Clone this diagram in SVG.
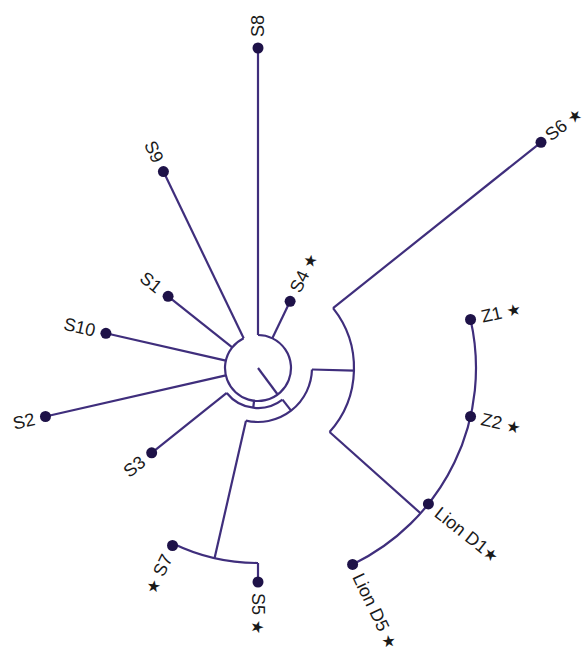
<svg xmlns="http://www.w3.org/2000/svg" width="587" height="657" viewBox="0 0 587 657">
<style>
.br{fill:none;stroke:#3f2e7c;stroke-width:2.2;stroke-linecap:butt;stroke-linejoin:miter}
.dot{fill:#1e1248}
.lb{font-family:"Liberation Sans","DejaVu Sans",Arial,sans-serif;font-size:18px;fill:#1a1a1a;dominant-baseline:central}
.l{text-anchor:end}
.st{font-size:16px}
</style>
<rect width="587" height="657" fill="#ffffff"/>
<g id="connectors">
<path class="br" d="M258,335 A33,33 0 1 1 243.68,338.27"/>
<path class="br" d="M258,368 L277.67,394.49"/>
<path class="br" d="M258,335 L258,48"/>
<path class="br" d="M272.32,338.27 L290.11,301.33"/>
<path class="br" d="M243.68,338.27 L163.41,171.58"/>
<path class="br" d="M232.20,347.42 L168.09,296.30"/>
<path class="br" d="M225.83,360.66 L105.92,333.29"/>
<path class="br" d="M225.83,375.34 L45.47,416.51"/>
<path class="br" d="M254.08,400.77 L253.24,407.72"/>
<path class="br" d="M282.50,399.62 A40,40 0 0 1 226.73,392.94"/>
<path class="br" d="M226.73,392.94 L151.68,452.79"/>
<path class="br" d="M282.50,399.62 L291.08,410.69"/>
<path class="br" d="M311.98,369.52 A54,54 0 0 1 245.98,420.64"/>
<path class="br" d="M311.98,369.52 L353.96,370.70"/>
<path class="br" d="M333.05,308.14 A96,96 0 0 1 329.58,431.97"/>
<path class="br" d="M333.05,308.14 L541.0,142.3"/>
<path class="br" d="M329.58,431.97 L420.54,513.28"/>
<path class="br" d="M470.53,319.49 A218,218 0 0 1 352.59,564.42"/>
<path class="br" d="M245.98,420.64 L214.61,558.11"/>
<path class="br" d="M258,563 A195,195 0 0 1 173.39,543.70"/>
<path class="br" d="M258,563 L258,582"/>
<path class="br" d="M173.39,543.70 L172.52,545.5"/>
</g>
<g id="S8"><circle class="dot" cx="258" cy="48" r="5.5"/><text class="lb" transform="translate(258,37) rotate(-90)">S8</text></g>
<g id="S4"><circle class="dot" cx="290.11" cy="301.33" r="5.5"/><text class="lb" transform="translate(294.9,291.4) rotate(-64.29)">S4 <tspan class="st">★</tspan></text></g>
<g id="S6"><circle class="dot" cx="541" cy="142.3" r="5.5"/><text class="lb" transform="translate(547.5,137) rotate(-38.57)">S6 <tspan class="st">★</tspan></text></g>
<g id="Z1"><circle class="dot" cx="470.53" cy="319.49" r="5.5"/><text class="lb" transform="translate(481.3,317) rotate(-12.86)">Z1 <tspan class="st">★</tspan></text></g>
<g id="Z2"><circle class="dot" cx="470.53" cy="416.51" r="5.5"/><text class="lb" transform="translate(481.3,419) rotate(12.86)">Z2 <tspan class="st">★</tspan></text></g>
<g id="LionD1"><circle class="dot" cx="428.41" cy="503.94" r="5.5"/><text class="lb" transform="translate(437,510.8) rotate(38.57)">Lion D1<tspan class="st">★</tspan></text></g>
<g id="LionD5"><circle class="dot" cx="352.59" cy="564.42" r="5.5"/><text class="lb" transform="translate(357.4,574.3) rotate(64.29)">Lion D5 <tspan class="st">★</tspan></text></g>
<g id="S5"><circle class="dot" cx="258" cy="582" r="5.5"/><text class="lb" transform="translate(258,593) rotate(90)">S5 <tspan class="st">★</tspan></text></g>
<g id="S7"><circle class="dot" cx="172.52" cy="545.5" r="5.5"/><text class="lb l" transform="translate(167.7,555.4) rotate(-64.29)"><tspan class="st">★</tspan> S7</text></g>
<g id="S3"><circle class="dot" cx="151.68" cy="452.79" r="5.5"/><text class="lb l" transform="translate(143.1,459.7) rotate(-38.57)">S3</text></g>
<g id="S2"><circle class="dot" cx="45.47" cy="416.51" r="5.5"/><text class="lb l" transform="translate(34.75,419) rotate(-12.86)">S2</text></g>
<g id="S10"><circle class="dot" cx="105.92" cy="333.29" r="5.5"/><text class="lb l" transform="translate(95.2,330.8) rotate(12.86)">S10</text></g>
<g id="S1"><circle class="dot" cx="168.09" cy="296.3" r="5.5"/><text class="lb l" transform="translate(159.5,289.4) rotate(38.57)">S1</text></g>
<g id="S9"><circle class="dot" cx="163.41" cy="171.58" r="5.5"/><text class="lb l" transform="translate(158.6,161.7) rotate(64.29)">S9</text></g>
</svg>
